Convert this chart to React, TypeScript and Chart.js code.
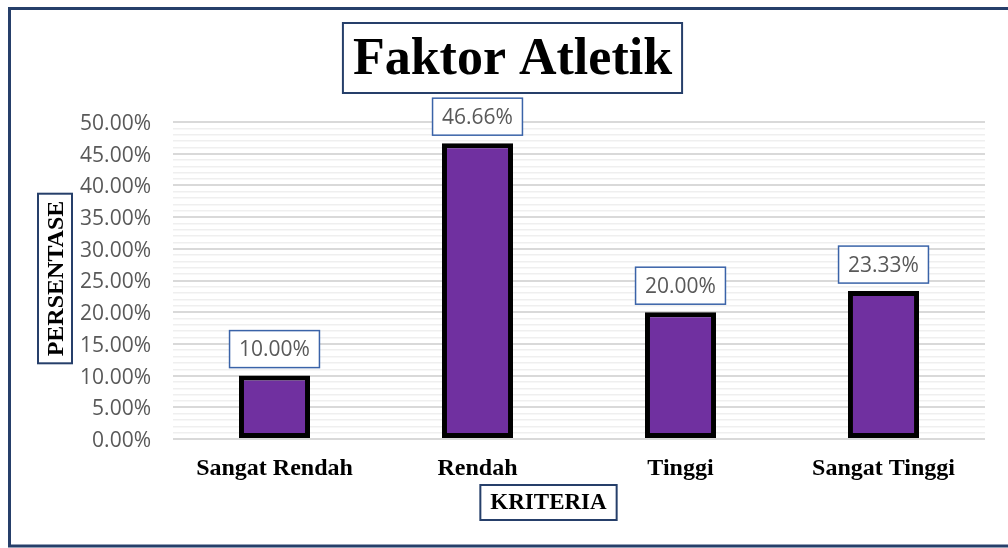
import React, { useEffect, useRef } from 'react';
import { Chart, registerables } from 'chart.js';

Chart.register(...registerables);

const categories = ['Sangat Rendah', 'Rendah', 'Tinggi', 'Sangat Tinggi'];
const values = [0.1, 0.4666, 0.2, 0.2333];
const valueLabels = ['10.00%', '46.66%', '20.00%', '23.33%'];
const chartTitle = 'Faktor Atletik';
const yTitle = 'PERSENTASE';
const xTitle = 'KRITERIA';
const yMin = 0;
const yMax = 0.5;
const yMinorStep = 0.01;

const SERIF = '"Liberation Serif", "Times New Roman", serif';
const SANS = '"Open Sans", "DejaVu Sans", sans-serif';

const decorPlugin = {
  id: 'decor',
  beforeDraw(chart: any) {
    const { ctx, width, height } = chart;
    ctx.save();
    ctx.fillStyle = '#ffffff';
    ctx.fillRect(0, 0, width, height);
    ctx.strokeStyle = '#263f6a';
    ctx.lineWidth = 3;
    ctx.strokeRect(9.5, 8.5, 1200, 537.5);
    ctx.restore();
  },
  afterDraw(chart: any) {
    const { ctx, chartArea } = chart;
    ctx.save();
    // Title
    ctx.font = `bold 52px ${SERIF}`;
    ctx.textAlign = 'center';
    ctx.textBaseline = 'middle';
    const tcx = 512.5;
    const tcy = 58;
    const tw = ctx.measureText(chartTitle).width;
    ctx.fillStyle = '#ffffff';
    ctx.fillRect(tcx - tw / 2 - 10, 23, tw + 20, 70);
    ctx.strokeStyle = '#263f6a';
    ctx.lineWidth = 2;
    ctx.strokeRect(tcx - tw / 2 - 10, 23, tw + 20, 70);
    ctx.fillStyle = '#000000';
    ctx.fillText(chartTitle, tcx, tcy + 3);

    // Y title
    ctx.font = `bold 24px ${SERIF}`;
    const yw = ctx.measureText(yTitle).width;
    const ycx = 55;
    const ycy = (chartArea.top + chartArea.bottom) / 2 - 2;
    ctx.fillStyle = '#ffffff';
    ctx.fillRect(ycx - 17, ycy - yw / 2 - 7, 34, yw + 14);
    ctx.strokeStyle = '#263f6a';
    ctx.lineWidth = 2;
    ctx.strokeRect(ycx - 17, ycy - yw / 2 - 7, 34, yw + 14);
    ctx.save();
    ctx.translate(ycx + 1, ycy);
    ctx.rotate(-Math.PI / 2);
    ctx.fillStyle = '#000000';
    ctx.fillText(yTitle, 0, 1);
    ctx.restore();

    // X title
    ctx.font = `bold 23px ${SERIF}`;
    const xw = ctx.measureText(xTitle).width;
    const xcx = 548.5;
    const xcy = 502.5;
    ctx.fillStyle = '#ffffff';
    ctx.fillRect(xcx - xw / 2 - 10, xcy - 17.5, xw + 20, 35);
    ctx.strokeStyle = '#263f6a';
    ctx.lineWidth = 2;
    ctx.strokeRect(xcx - xw / 2 - 10, xcy - 17.5, xw + 20, 35);
    ctx.fillStyle = '#000000';
    ctx.fillText(xTitle, xcx, xcy + 1);

    // Data labels
    const meta = chart.getDatasetMeta(0);
    ctx.font = `21px ${SANS}`;
    meta.data.forEach((el: any, i: number) => {
      const label = valueLabels[i];
      const w = ctx.measureText(label).width;
      const bw = w + 19;
      const bh = 37;
      const bottom = el.y - 8;
      const left = el.x - bw / 2;
      ctx.fillStyle = '#ffffff';
      ctx.fillRect(left, bottom - bh, bw, bh);
      ctx.strokeStyle = '#3a63a8';
      ctx.lineWidth = 1.5;
      ctx.strokeRect(left, bottom - bh, bw, bh);
      ctx.fillStyle = '#595959';
      ctx.fillText(label, el.x, bottom - bh / 2 + 1);
    });
    ctx.restore();
  },
};

export default function App() {
  const ref = useRef<HTMLCanvasElement>(null);
  useEffect(() => {
    document.body.style.margin = '0';
    const canvas = ref.current;
    if (!canvas) return;
    const isMajor = (v: number) => Math.round(v * 100) % 5 === 0;
    const chart = new Chart(canvas, {
      type: 'bar',
      data: {
        labels: categories,
        datasets: [
          {
            data: values,
            backgroundColor: '#7030a0',
            borderColor: '#000000',
            borderWidth: 5,
            borderSkipped: false,
            categoryPercentage: 1,
            barPercentage: 0.35,
          },
        ],
      },
      options: {
        responsive: false,
        animation: false,
        devicePixelRatio: 1,
        layout: { padding: { top: 122, right: 23, bottom: 0, left: 0 } },
        plugins: {
          legend: { display: false },
          title: { display: false },
          tooltip: { enabled: false },
        },
        scales: {
          x: {
            grid: { display: false },
            border: { display: false },
            ticks: {
              color: '#000000',
              font: { family: SERIF, size: 24, weight: 'bold' },
              padding: 7,
              maxRotation: 0,
              autoSkip: false,
            },
            afterFit: (s: any) => {
              s.height = 109;
            },
          },
          y: {
            min: yMin,
            max: yMax,
            border: { display: false },
            grid: {
              drawTicks: false,
              color: (c: any) => (isMajor(c.tick.value) ? '#d9d9d9' : '#efefef'),
              lineWidth: (c: any) => (isMajor(c.tick.value) ? 2 : 1.5),
            },
            ticks: {
              stepSize: yMinorStep,
              autoSkip: false,
              color: '#595959',
              font: { family: SANS, size: 21 },
              padding: 22,
              labelOffset: 2,
              callback: (v: any) => (isMajor(Number(v)) ? (Number(v) * 100).toFixed(2) + '%' : ''),
            },
            afterFit: (s: any) => {
              s.width = 173;
            },
          },
        },
      },
      plugins: [decorPlugin],
    });
    return () => chart.destroy();
  }, []);
  return (
    <div style={{ width: 1008, height: 548, overflow: 'hidden' }}>
      <canvas ref={ref} width={1008} height={548} style={{ display: 'block' }} />
    </div>
  );
}
